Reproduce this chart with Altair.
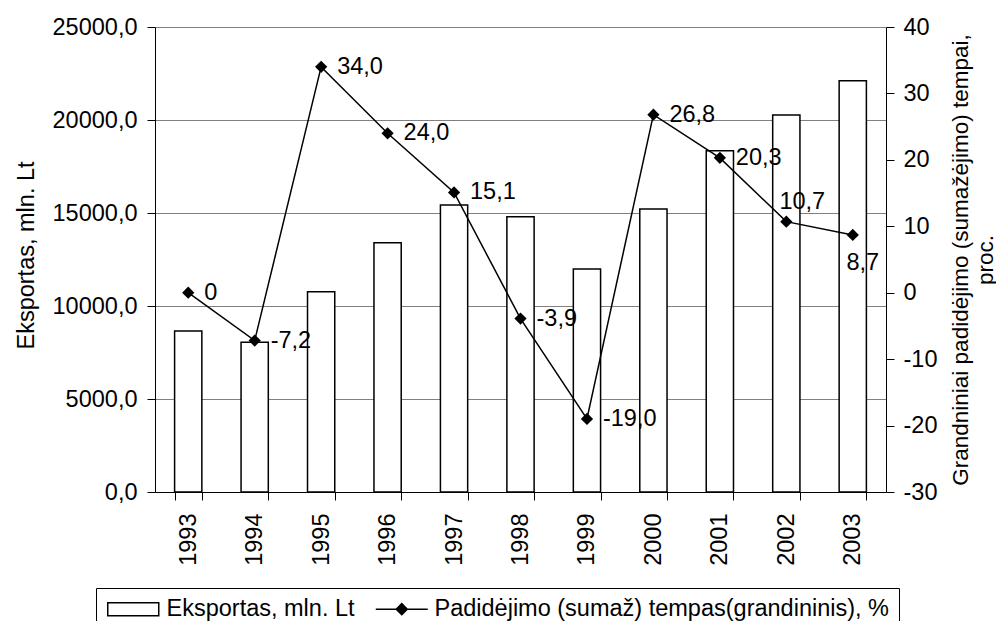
import altair as alt
import pandas as pd

years = ["1993", "1994", "1995", "1996", "1997", "1998", "1999", "2000", "2001", "2002", "2003"]
export_vals = [8650, 8050, 10770, 13400, 15430, 14800, 11990, 15210, 18350, 20270, 22110]
growth_vals = [0, -7.2, 34.0, 24.0, 15.1, -3.9, -19.0, 26.8, 20.3, 10.7, 8.7]
growth_labels = ["0", "-7,2", "34,0", "24,0", "15,1", "-3,9", "-19,0", "26,8", "20,3", "10,7", "8,7"]
left_ticks = [0, 5000, 10000, 15000, 20000, 25000]
right_ticks = [-30, -20, -10, 0, 10, 20, 30, 40]
series_names = ["Eksportas, mln. Lt", "Padidėjimo (sumaž) tempas(grandininis), %"]
left_title = "Eksportas, mln. Lt"
right_title = ["Grandniniai padidėjimo (sumažėjimo) tempai,", "proc."]

df = pd.DataFrame({"year": years, "export": export_vals, "growth": growth_vals, "label": growth_labels})
leg_df = pd.DataFrame({"series": series_names})

FONT = "Liberation Sans"
FS = 23.5

xscale = alt.Scale(paddingInner=0.59, paddingOuter=0.295)
xaxis = alt.Axis(title=None, labelAngle=-90, tickBand="extent", labelPadding=13, tickSize=8, grid=False)
X = alt.X("year:N", sort=years, scale=xscale, axis=xaxis)

left_axis = alt.Axis(
    values=left_ticks,
    labelExpr="replace(format(datum.value, '.1f'), '.', ',')",
    title=left_title, grid=True, gridColor="#808080", gridWidth=1,
    tickSize=8, labelPadding=10,
    titleAngle=-90, titleX=-129, titleY=228, titleAlign="center", titleBaseline="middle",
)
right_axis = alt.Axis(
    orient="right", values=right_ticks, labelExpr="'' + datum.value",
    title=right_title, grid=False, tickSize=8, labelPadding=9,
    titleAngle=-90, titleX=63, titleY=232.5, titleAlign="center", titleBaseline="top",
    titleLineHeight=25, titleFontSize=22.5,
)

bars = alt.Chart(df).mark_bar(fill="white", stroke="black", strokeWidth=1.5).encode(
    x=X,
    y=alt.Y("export:Q", scale=alt.Scale(domain=[0, 25000], nice=False, zero=True), axis=left_axis),
)

gy = alt.Y("growth:Q", scale=alt.Scale(domain=[-30, 40], nice=False, zero=False), axis=right_axis)

line = alt.Chart(df).mark_line(color="black", strokeWidth=1.5).encode(x=X, y=gy)
pts = alt.Chart(df).mark_point(shape="diamond", filled=True, color="black", size=150, opacity=1).encode(x=X, y=gy)
txt_main = alt.Chart(df).transform_filter(
    "datum.year != '2002' && datum.year != '2003'"
).mark_text(align="left", baseline="middle", dx=16, fontSize=FS, font=FONT, color="black").encode(
    x=X, y=gy, text="label:N")
txt_2002 = alt.Chart(df).transform_filter("datum.year == '2002'").mark_text(
    align="center", baseline="middle", dx=16, dy=-20, fontSize=FS, font=FONT, color="black").encode(
    x=X, y=gy, text="label:N")
txt_2003 = alt.Chart(df).transform_filter("datum.year == '2003'").mark_text(
    align="center", baseline="middle", dx=10, dy=28, fontSize=FS, font=FONT, color="black").encode(
    x=X, y=gy, text="label:N")

right_layer = alt.layer(line, pts, txt_main, txt_2002, txt_2003)

rect_path = "M-0.9,-0.65H4.2V0.65H-0.9Z"
line_path = "M-0.9,0H4.3M1.7,-0.55L2.25,0L1.7,0.55L1.15,0Z"
leg = alt.Legend(
    title=None, orient="none", legendX=-59, legendY=561, direction="horizontal", columns=2,
    columnPadding=17, padding=9, strokeColor="black", symbolSize=400, symbolStrokeWidth=1.5,
    symbolStrokeColor="black", symbolOpacity=1, labelFontSize=FS, labelFont=FONT, labelColor="black",
    labelLimit=1000, labelOffset=38,
)
legend_layer = alt.Chart(leg_df).mark_point(clip=True, strokeWidth=1.5).encode(
    x=alt.value(-2000), y=alt.value(-2000),
    shape=alt.Shape("series:N", sort=series_names,
                    scale=alt.Scale(domain=series_names, range=[rect_path, line_path]), legend=leg),
    fill=alt.Fill("series:N", sort=series_names,
                  scale=alt.Scale(domain=series_names, range=["white", "black"]), legend=leg),
    stroke=alt.Stroke("series:N", sort=series_names,
                      scale=alt.Scale(domain=series_names, range=["black", "black"]), legend=leg),
)

chart = alt.layer(bars, right_layer, legend_layer).resolve_scale(y="independent").properties(
    width=731, height=465,
    padding={"left": 147, "top": 19, "right": 110, "bottom": 129},
    autosize=alt.AutoSizeParams(type="none"),
).configure(font=FONT).configure_axis(
    labelFontSize=FS, titleFontSize=FS, labelColor="black", titleColor="black",
    domainColor="black", tickColor="black", titleFontWeight="normal", labelFont=FONT, titleFont=FONT,
    domainWidth=1, tickWidth=1,
).configure_view(strokeOpacity=0)

chart.save("out.html", embed_options={"renderer": "svg", "actions": False})
